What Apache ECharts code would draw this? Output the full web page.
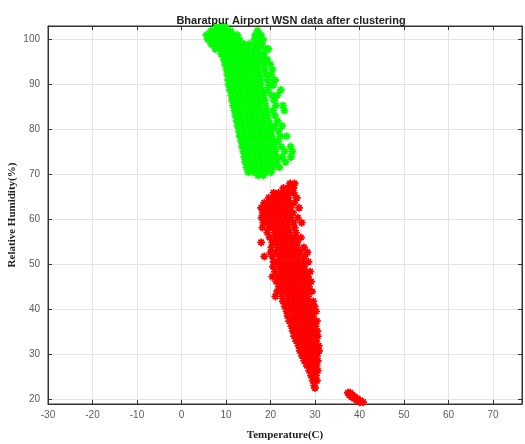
<!DOCTYPE html>
<html>
<head>
<meta charset="utf-8">
<script src="https://cdn.jsdelivr.net/npm/echarts@6/dist/echarts.min.js"></script>
<style>
  html, body { margin: 0; padding: 0; background: #fff; }
  #main { width: 525px; height: 444px; }
</style>
</head>
<body>
<div id="main"></div>
<script>
  // cluster 1 (green): [humidity, [temperatures...]]
  const greenRows = [
    [102.8, [7.8, 8.9, 9.8]],
    [101.9, [6.6, 7.7, 8.8, 10.0, 11.0, 17.1]],
    [101.0, [5.6, 6.8, 8.0, 9.2, 10.4, 11.6, 12.5, 16.6, 17.8]],
    [100.0, [5.9, 7.1, 8.3, 9.5, 10.7, 11.9, 13.0, 16.4, 17.7, 18.3]],
    [99.0, [6.7, 7.9, 9.1, 10.3, 11.5, 12.7, 14.0, 15.3, 16.8, 18.0]],
    [97.9, [7.6, 8.8, 10.0, 11.2, 12.4, 13.6, 14.8, 16.2, 17.4, 18.9, 19.5]],
    [96.8, [8.9, 10.1, 11.3, 12.5, 13.7, 14.9, 16.0, 17.3, 18.5]],
    [95.6, [9.5, 10.6, 11.8, 13.0, 14.2, 15.4, 16.6, 17.8, 19.2]],
    [94.5, [9.8, 11.0, 12.2, 13.4, 14.6, 15.8, 17.0, 18.4, 19.9]],
    [93.3, [10.1, 11.3, 12.5, 13.7, 14.9, 16.1, 17.3, 18.7, 20.4]],
    [92.2, [10.3, 11.5, 12.7, 13.9, 15.1, 16.3, 17.5, 18.9, 20.1]],
    [91.0, [10.5, 11.7, 12.9, 14.1, 15.3, 16.5, 17.7, 19.3, 21.0]],
    [89.9, [10.6, 11.8, 13.0, 14.2, 15.4, 16.6, 17.8, 19.6, 20.6]],
    [88.8, [10.9, 12.1, 13.3, 14.5, 15.7, 16.9, 18.1, 19.4, 22.3]],
    [87.6, [11.2, 12.4, 13.6, 14.8, 16.0, 17.2, 18.5, 20.3, 21.5]],
    [86.5, [11.4, 12.6, 13.8, 15.0, 16.2, 17.4, 18.7, 20.8]],
    [85.3, [11.6, 12.8, 14.0, 15.2, 16.4, 17.6, 18.9, 21.2, 22.8]],
    [84.2, [11.9, 13.1, 14.3, 15.5, 16.7, 17.9, 19.1, 20.5, 23.1]],
    [83.1, [12.1, 13.3, 14.5, 15.7, 16.9, 18.1, 19.3, 21.0]],
    [81.9, [12.4, 13.6, 14.8, 16.0, 17.2, 18.4, 19.6, 21.6]],
    [80.8, [12.6, 13.8, 15.0, 16.2, 17.4, 18.6, 19.8, 20.9, 22.6]],
    [79.6, [12.9, 14.1, 15.3, 16.5, 17.7, 18.9, 20.1, 21.8]],
    [78.5, [13.1, 14.3, 15.5, 16.7, 17.9, 19.1, 20.3, 22.2, 23.6]],
    [77.4, [13.4, 14.6, 15.8, 17.0, 18.2, 19.4, 20.6, 21.6]],
    [76.2, [13.6, 14.8, 16.0, 17.2, 18.4, 19.6, 20.8, 22.4, 24.5]],
    [75.1, [13.9, 15.1, 16.3, 17.5, 18.7, 19.9, 21.1, 23.2, 24.9]],
    [73.9, [14.1, 15.3, 16.5, 17.7, 18.9, 20.1, 21.3, 22.6, 24.6]],
    [72.8, [14.3, 15.5, 16.7, 17.9, 19.1, 20.3, 21.5, 23.4]],
    [71.6, [14.6, 15.8, 17.0, 18.2, 19.4, 20.6, 22.0]],
    [70.5, [15.0, 16.3, 17.5, 18.8, 20.1]],
    [69.8, [17.2, 18.4]]
  ];

  // cluster 2 (red)
  const redRows = [
    [68.0, [24.4, 25.4]],
    [67.0, [22.9, 24.0, 25.1]],
    [65.9, [20.7, 21.8, 22.9, 24.0, 25.2]],
    [64.8, [19.6, 20.7, 21.8, 22.9, 24.0, 25.9]],
    [63.7, [18.6, 19.7, 20.8, 21.9, 23.0, 24.1, 25.3]],
    [62.6, [17.9, 19.0, 20.1, 21.2, 22.3, 23.4, 24.5, 26.4]],
    [61.5, [18.3, 19.4, 20.5, 21.6, 22.7, 23.8, 25.0]],
    [60.4, [18.0, 19.1, 20.2, 21.3, 22.4, 23.5, 24.6, 26.1]],
    [59.3, [18.4, 19.5, 20.6, 21.7, 22.8, 23.9, 25.2, 27.0]],
    [58.2, [18.2, 19.6, 20.7, 21.8, 22.9, 24.0, 25.4]],
    [57.1, [19.3, 20.9, 22.0, 23.1, 24.2, 25.7]],
    [56.0, [19.8, 21.1, 22.2, 23.3, 24.4, 25.5, 26.8]],
    [54.9, [17.9, 20.4, 21.5, 22.6, 23.7, 24.8, 26.0]],
    [53.8, [20.2, 21.6, 22.7, 23.8, 24.9, 26.0, 27.5]],
    [52.7, [20.0, 21.2, 22.3, 23.4, 24.5, 25.6, 26.7, 28.3]],
    [51.8, [18.6, 20.4, 21.9, 23.0, 24.1, 25.2, 26.3, 27.6]],
    [50.6, [20.7, 21.8, 22.9, 24.0, 25.1, 26.2, 27.3, 28.5]],
    [49.5, [20.6, 22.0, 23.1, 24.2, 25.3, 26.4, 27.5]],
    [48.4, [21.0, 22.3, 23.4, 24.5, 25.6, 26.7, 27.8, 28.9]],
    [47.3, [20.4, 21.7, 22.8, 23.9, 25.0, 26.1, 27.2, 28.4]],
    [46.2, [21.3, 22.5, 23.6, 24.7, 25.8, 26.9, 28.0, 29.1]],
    [45.1, [21.9, 23.0, 24.1, 25.2, 26.3, 27.4, 28.6]],
    [44.0, [21.5, 22.7, 23.8, 24.9, 26.0, 27.1, 28.2, 29.3]],
    [42.9, [21.1, 22.6, 23.9, 25.0, 26.1, 27.2, 28.4]],
    [41.8, [22.8, 24.0, 25.1, 26.2, 27.3, 28.5, 29.6]],
    [40.7, [23.2, 24.4, 25.5, 26.6, 27.7, 28.8, 29.9]],
    [39.6, [23.6, 24.8, 25.9, 27.0, 28.1, 29.2, 30.2]],
    [38.5, [23.9, 25.1, 26.2, 27.3, 28.4, 29.5]],
    [37.4, [24.2, 25.4, 26.5, 27.6, 28.7, 29.8, 30.4]],
    [36.3, [24.7, 25.8, 26.9, 28.0, 29.1, 30.1]],
    [35.2, [25.0, 26.1, 27.2, 28.3, 29.4, 30.5]],
    [34.1, [25.3, 26.4, 27.5, 28.6, 29.7, 30.6]],
    [33.0, [25.8, 26.9, 28.0, 29.1, 30.2]],
    [31.9, [26.3, 27.4, 28.5, 29.6, 30.8]],
    [30.8, [26.6, 27.7, 28.8, 29.9, 30.9]],
    [29.7, [27.1, 28.2, 29.3, 30.4]],
    [28.6, [27.6, 28.7, 29.8, 30.6]],
    [27.5, [28.2, 29.3, 30.3]],
    [26.4, [28.7, 29.8, 30.6]],
    [25.3, [29.1, 30.2]],
    [24.2, [29.5, 30.4]],
    [23.1, [29.8]],
    [22.6, [30.0]],
    // small hot group
    [21.5, [37.4, 37.9]],
    [21.0, [37.7, 38.4]],
    [20.6, [38.2, 38.9]],
    [20.2, [38.8, 39.5]],
    [19.8, [39.4, 40.1]],
    [19.4, [40.1, 40.8]]
  ];

  const titleText = 'Bharatpur Airport WSN data after clustering';
  const xName = 'Temperature(C)';
  const yName = 'Relative Humidity(%)';

  function toPoints(rows) {
    const out = [];
    rows.forEach(r => r[1].forEach(t => out.push([t, r[0]])));
    return out;
  }

  const star = 'path://M5,0L5,10M0,5L10,5M1.6,1.6L8.4,8.4M8.4,1.6L1.6,8.4';

  const chart = echarts.init(document.getElementById('main'));
  const labelStyle = { color: '#5a5a5a', fontSize: 10, fontFamily: 'Liberation Sans' };
  const edge = { lineStyle: { color: '#333' }, onZero: false };
  chart.setOption({
    animation: false,
    backgroundColor: '#fff',
    title: {
      text: titleText,
      left: 286,
      top: 10,
      textAlign: 'center',
      textStyle: { fontSize: 11, fontWeight: 'bold', color: '#222', fontFamily: 'Liberation Sans' }
    },
    grid: {
      left: 48, right: 3, top: 26, bottom: 40,
      outerBoundsMode: 'none', containLabel: false,
      show: true, borderColor: '#333', borderWidth: 1
    },
    xAxis: [{
      type: 'value', min: -30, max: 76.5, splitNumber: 10,
      name: xName, nameLocation: 'middle', nameGap: 26, nameMoveOverlap: false,
      nameTextStyle: { fontFamily: 'Liberation Serif', fontWeight: 'bold', fontSize: 11, color: '#222' },
      axisLine: edge,
      axisTick: { inside: true, length: 4, lineStyle: { color: '#333' } },
      axisLabel: Object.assign({ showMaxLabel: false, margin: 6 }, labelStyle),
      splitLine: { lineStyle: { color: '#e4e4e4' } }
    }, {
      type: 'value', min: -30, max: 76.5, splitNumber: 10, position: 'top',
      axisLine: edge,
      axisTick: { inside: true, length: 4, lineStyle: { color: '#333' } },
      axisLabel: { show: false }, splitLine: { show: false }
    }],
    yAxis: [{
      type: 'value', min: 19, max: 103, splitNumber: 8,
      name: yName, nameLocation: 'middle', nameGap: 30, nameMoveOverlap: false,
      nameTextStyle: { fontFamily: 'Liberation Serif', fontWeight: 'bold', fontSize: 11, color: '#222' },
      axisLine: edge,
      axisTick: { inside: true, length: 4, lineStyle: { color: '#333' } },
      axisLabel: Object.assign({ showMinLabel: false, showMaxLabel: false, margin: 8 }, labelStyle),
      splitLine: { lineStyle: { color: '#e4e4e4' } }
    }, {
      type: 'value', min: 19, max: 103, splitNumber: 8, position: 'right',
      axisLine: edge,
      axisTick: { inside: true, length: 4, lineStyle: { color: '#333' } },
      axisLabel: { show: false }, splitLine: { show: false }
    }],
    series: [
      {
        type: 'scatter', data: toPoints(greenRows), symbol: star, symbolSize: 8,
        itemStyle: { color: '#00ff00', borderColor: '#00ff00', borderWidth: 1.8, opacity: 1 }
      },
      {
        type: 'scatter', data: toPoints(redRows), symbol: star, symbolSize: 8,
        itemStyle: { color: '#ff0000', borderColor: '#ff0000', borderWidth: 1.8, opacity: 1 }
      }
    ]
  });
</script>
</body>
</html>
